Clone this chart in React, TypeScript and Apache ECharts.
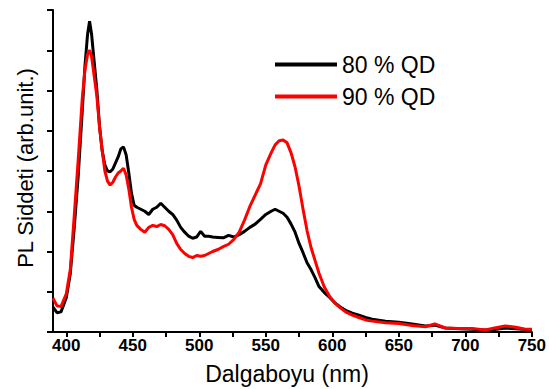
import React, { useEffect, useRef } from "react";
import * as echarts from "echarts";

const wavelength = [
  390, 393, 396, 400, 403, 406, 409, 412, 414, 416, 417.5, 419, 421, 423, 425, 427, 429, 431, 433, 435,
  437, 439, 441, 443, 445, 447, 449, 451, 453, 456, 459, 462, 465, 468, 471, 474, 477, 480, 483, 486,
  489, 492, 495, 498, 501, 504, 507, 510, 514, 518, 522, 526, 530, 534, 538, 542, 546, 550, 554, 557,
  560, 563, 566, 569, 572, 575, 578, 581, 584, 587, 590, 594, 598, 602, 606, 610, 615, 620, 625, 630,
  640, 650, 660, 670, 677, 685, 695, 705, 715, 722, 730, 738, 745, 750,
];

const pl80 = [
  0.62, 0.48, 0.5, 0.85, 1.45, 2.6, 3.9, 5.5, 6.6, 7.4, 7.72, 7.4, 6.7, 6.0, 5.1, 4.5, 4.15, 4.0, 3.98, 4.05,
  4.2, 4.35, 4.55, 4.6, 4.4, 3.95, 3.45, 3.15, 3.1, 3.05, 3.0, 2.92, 3.05, 3.1, 3.2, 3.1, 3.0, 2.92, 2.78, 2.6,
  2.48, 2.38, 2.33, 2.36, 2.5, 2.38, 2.38, 2.36, 2.35, 2.34, 2.4, 2.36, 2.42, 2.5, 2.6, 2.68, 2.8, 2.92, 3.0, 3.05,
  3.0, 2.95, 2.85, 2.68, 2.48, 2.2, 1.97, 1.72, 1.55, 1.35, 1.13, 0.98, 0.86, 0.72, 0.62, 0.54, 0.47, 0.42, 0.36, 0.32,
  0.27, 0.24, 0.2, 0.15, 0.17, 0.1, 0.08, 0.07, 0.05, 0.06, 0.1, 0.08, 0.06, 0.06,
];

const pl90 = [
  0.84, 0.65, 0.63, 0.95, 1.55, 2.9, 4.3, 5.8, 6.5, 6.9, 7.0, 6.85, 6.35, 5.85, 5.1, 4.5, 4.0, 3.75, 3.65, 3.72,
  3.85, 3.95, 4.0, 4.07, 3.9, 3.55, 3.1, 2.8, 2.65, 2.55, 2.48, 2.6, 2.65, 2.62, 2.67, 2.64, 2.55, 2.42, 2.2, 2.05,
  1.95, 1.88, 1.85, 1.9, 1.88, 1.9, 1.95, 2.0, 2.05, 2.12, 2.18, 2.3, 2.48, 2.78, 3.12, 3.4, 3.68, 4.15, 4.45, 4.65,
  4.75, 4.77, 4.7, 4.45, 4.1, 3.62, 3.05, 2.52, 2.1, 1.78, 1.46, 1.12, 0.88, 0.72, 0.6, 0.5, 0.42, 0.36, 0.3, 0.27,
  0.23, 0.21, 0.16, 0.13, 0.2, 0.1, 0.09, 0.09, 0.05, 0.1, 0.15, 0.12, 0.07, 0.07,
];

const seriesNames = ["80 % QD", "90 % QD"];
const xLabelValues = [400, 450, 500, 550, 600, 650, 700, 750];
const xTickValues = [400, 425, 450, 475, 500, 525, 550, 575, 600, 625, 650, 675, 700, 725, 750];

const FONT = "'Liberation Sans', Arial, sans-serif";

export default function App() {
  const ref = useRef<HTMLDivElement>(null);
  useEffect(() => {
    if (!ref.current) return;
    const chart = echarts.init(ref.current, null, { renderer: "svg" });
    const d80 = wavelength.map((w, i) => [w, pl80[i]]);
    const d90 = wavelength.map((w, i) => [w, pl90[i]]);
    chart.setOption({
      animation: false,
      backgroundColor: "#ffffff",
      grid: { left: 53, right: 16, top: 10, bottom: 57, containLabel: false },
      legend: {
        orient: "vertical",
        left: 275,
        top: 53,
        padding: 0,
        itemGap: 9,
        itemWidth: 62,
        itemHeight: 4,
        icon: "rect",
        textStyle: { fontFamily: FONT, fontSize: 23, color: "#000" },
        data: seriesNames,
      },
      xAxis: {
        type: "value",
        min: 390,
        max: 750,
        axisLine: { show: true, onZero: false, lineStyle: { color: "#000", width: 2 } },
        axisTick: { show: true, length: 5, customValues: xTickValues, lineStyle: { color: "#000", width: 2 } },
        axisLabel: {
          customValues: xLabelValues,
          fontFamily: FONT,
          fontSize: 17,
          fontWeight: "bold",
          color: "#000",
          margin: 5,
        },
        splitLine: { show: false },
      },
      yAxis: {
        type: "value",
        min: 0,
        max: 8,
        interval: 1,
        axisLine: { show: true, lineStyle: { color: "#000", width: 2 } },
        axisTick: { show: true, length: 6, lineStyle: { color: "#000", width: 2 } },
        axisLabel: { show: false },
        splitLine: { show: false },
      },
      series: [
        {
          name: seriesNames[0],
          type: "line",
          data: d80,
          showSymbol: false,
          symbol: "none",
          lineStyle: { color: "#000000", width: 3 },
          itemStyle: { color: "#000000" },
        },
        {
          name: seriesNames[1],
          type: "line",
          data: d90,
          showSymbol: false,
          symbol: "none",
          lineStyle: { color: "#ff0000", width: 3 },
          itemStyle: { color: "#ff0000" },
        },
      ],
      graphic: [
        {
          type: "text",
          x: 287,
          y: 374,
          style: {
            text: "Dalgaboyu (nm)",
            fontFamily: FONT,
            fontSize: 23,
            fill: "#000",
            align: "center",
            verticalAlign: "middle",
          },
        },
        {
          type: "text",
          x: 25,
          y: 168,
          rotation: Math.PI / 2,
          style: {
            text: "PL Siddeti (arb.unit.)",
            fontFamily: FONT,
            fontSize: 22,
            fill: "#000",
            align: "center",
            verticalAlign: "middle",
          },
        },
      ],
    });
    return () => chart.dispose();
  }, []);
  return (
    <div
      ref={ref}
      style={{ position: "fixed", left: 0, top: 0, width: 549, height: 389, background: "#fff" }}
    />
  );
}
